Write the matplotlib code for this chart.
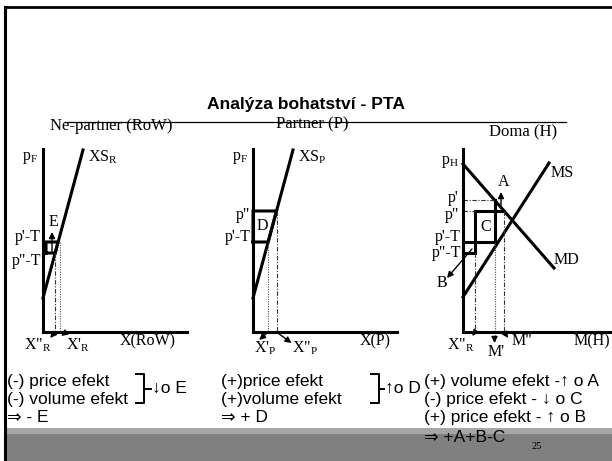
import numpy as np
import matplotlib.pyplot as plt

plt.rcParams['mathtext.fontset'] = 'custom'
plt.rcParams['mathtext.rm'] = 'Liberation Serif'
plt.rcParams['mathtext.it'] = 'Liberation Serif:italic'

W, H = 612, 461
SERIF = 'Liberation Serif'
SANS = ['Liberation Sans', 'DejaVu Sans']

# price levels, same scale in all three panels
price_names = ["p'", 'p"', "p'-T", 'p"-T']
prices = [132, 121, 90, 79]

# export supply of RoW / partner
xs_q = [0, 40]
xs_p = [34, 182]
# home import demand and import supply
md_q = [0, 91]
md_p = [168, 64]
ms_q = [0, 86]
ms_p = [35, 169]

panel_titles = ['Ne-partner (RoW)', 'Partner (P)', 'Doma (H)']
left_notes = ['(-) price efekt', '(-) volume efekt', '\u21d2 - E']
mid_notes = ['(+)price efekt', '(+)volume efekt', '\u21d2 + D']
right_notes = ['(+) volume efekt -\u2191 o A', '(-) price efekt - \u2193 o C',
               '(+) price efekt - \u2191 o B', '\u21d2 +A+B-C']

p1, p2, p1t, p2t = prices


def q_at(qs, ps, p):
    if ps[0] > ps[-1]:
        return float(np.interp(p, ps[::-1], qs[::-1]))
    return float(np.interp(p, ps, qs))


fig = plt.figure(figsize=(W / 100, H / 100), dpi=100)

# slide background
bg = fig.add_axes([0, 0, 1, 1])
bg.set_xlim(0, W)
bg.set_ylim(H, 0)
bg.axis('off')
bg.add_patch(plt.Rectangle((5, 428), W, 7, color='#a6a6a6', lw=0))
bg.add_patch(plt.Rectangle((5, 434), W, 30, color='#808080', lw=0))
bg.plot([5, 5], [7, H], color='k', lw=2.2)
bg.plot([5, W], [7.5, 7.5], color='k', lw=2)
bg.plot([65, 566], [122, 122], color='k', lw=0.9)
bg.text(306, 104, 'Analýza bohatství - PTA', family=SANS, fontsize=12.6,
        fontweight='bold', ha='center', va='center')
for t, (x, y) in zip(panel_titles, [(111, 126), (312, 124), (523, 132)]):
    bg.text(x, y, t, family=SERIF, fontsize=12, ha='center', va='center')

NOTE = 12.5
for notes, x in [(left_notes, 7), (mid_notes, 221), (right_notes, 424)]:
    for i, t in enumerate(notes):
        y = 381 + 18 * i + (2 if i == 3 else 0)
        bg.text(x, y, t, family=SANS, fontsize=NOTE, ha='left', va='center')


def brace(x, top, bot, tip):
    mid = (top + bot) / 2
    bg.plot([x, x + 8, x + 8], [top, top, mid - 1], color='k', lw=1.4)
    bg.plot([x + 8, x + 8, x], [mid + 1, bot, bot], color='k', lw=1.4)
    bg.plot([x + 8, tip], [mid, mid], color='k', lw=1.4)


brace(136, 374, 403, 151)
bg.text(152, 388, '\u2193o E', family=SANS, fontsize=NOTE, va='center')
brace(371, 374, 403, 384)
bg.text(385, 388, '\u2191o D', family=SANS, fontsize=NOTE, va='center')
bg.text(537, 446, '25', family=SERIF, fontsize=7.5, ha='center', va='center')


def panel(x0, x1):
    ax = fig.add_axes([x0 / W, 1 - 332 / H, (x1 - x0) / W, 183 / H])
    ax.set_xlim(0, x1 - x0)
    ax.set_ylim(0, 183)
    ax.patch.set_alpha(0)
    for s in ['top', 'right']:
        ax.spines[s].set_visible(False)
    for s in ['left', 'bottom']:
        ax.spines[s].set_linewidth(2.2)
    ax.set_xticks([])
    ax.set_yticks([])
    return ax


def lab(ax, x, y, s, **kw):
    kw.setdefault('ha', 'center')
    ax.text(x, y, s, family=SERIF, fontsize=11.5, va='center', clip_on=False, **kw)


def arrow(ax, tail, head):
    ax.annotate('', xy=head, xytext=tail, annotation_clip=False,
                arrowprops=dict(arrowstyle='-|>', color='k', lw=1, mutation_scale=9,
                                shrinkA=0, shrinkB=0))


thick = dict(color='k', lw=2.2, solid_joinstyle='miter', solid_capstyle='projecting',
             clip_on=False)
dashdot = dict(color='#333333', lw=0.8, ls=(0, (4, 1.5, 1, 1.5)), clip_on=False)
dotted = dict(color='#555555', lw=0.8, ls=(0, (1, 1.2)), clip_on=False)

# --- Ne-partner (RoW)
ax = panel(43, 187)
ax.plot(xs_q, xs_p, **thick)
qa, qb = q_at(xs_q, xs_p, p2t), q_at(xs_q, xs_p, p1t)
ax.plot([3, qa, qb, 3, 3], [p2t, p2t, p1t, p1t, p2t], **thick)
ax.plot([qa, qa], [p2t, 0], **dashdot)
ax.plot([qb + 2, qb + 2], [p1t, 0], **dotted)
arrow(ax, (9, p2t + 1), (9, p1t + 10))
lab(ax, 10, 110, 'E')
lab(ax, -13, 174, 'p$_\\mathrm{F}$')
lab(ax, 45, 175, 'XS$_\\mathrm{R}$', ha='left')
lab(ax, -2, p1t + 5, price_names[2], ha='right')
lab(ax, -2, p2t - 8, price_names[3], ha='right')
arrow(ax, (qa, 0), (qa - 5, -6))
arrow(ax, (qb + 7, -1), (qb + 3, -4))
lab(ax, -5, -13, 'X"$_\\mathrm{R}$')
lab(ax, 35, -13, "X'$_\\mathrm{R}$")
lab(ax, 105, -9, 'X(RoW)')

# --- Partner (P)
ax = panel(253, 397)
ax.plot(xs_q, xs_p, **thick)
qa, qb = q_at(xs_q, xs_p, p1t), q_at(xs_q, xs_p, p2)
ax.plot([0, qa, qb, 0, 0], [p1t, p1t, p2, p2, p1t], **thick)
ax.plot([qa, qa], [p1t, 0], **dotted)
ax.plot([qb, qb], [p2, 0], **dashdot)
lab(ax, 9, 106, 'D')
lab(ax, -13, 174, 'p$_\\mathrm{F}$')
lab(ax, 45, 175, 'XS$_\\mathrm{P}$', ha='left')
lab(ax, -3, p2 - 4, price_names[1], ha='right')
lab(ax, -2, p1t + 5, price_names[2], ha='right')
arrow(ax, (qa, 0), (qa - 9, -8))
arrow(ax, (qb, 0), (qb + 15, -11))
lab(ax, 12, -16, "X'$_\\mathrm{P}$")
lab(ax, 52, -16, 'X"$_\\mathrm{P}$')
lab(ax, 122, -9, 'X(P)')

# --- Doma (H)
ax = panel(463, 612)
ax.plot(md_q, md_p, **thick)
ax.plot(ms_q, ms_p, **thick)
xr = q_at(xs_q, xs_p, p2t)
m1 = q_at(md_q, md_p, p1)
m2 = q_at(md_q, md_p, p2)
ax.plot([0, xr, xr, 0, 0], [p2t, p2t, p1t, p1t, p2t], **thick)
ax.plot([m2, xr, xr, m1, m1], [p2, p2, p1t, p1t, p1], **thick)
ax.plot([0, m1], [p1, p1], **dashdot)
ax.plot([0, xr], [p2, p2], **dashdot)
ax.plot([xr, xr], [p2t, 0], **dashdot)
ax.plot([m1, m1], [p1t, -10], **dotted)
ax.plot([m2, m2], [p2, 0], **dashdot)
arrow(ax, (38, 127), (38, 140))
arrow(ax, (9, 83), (-16, 54))
arrow(ax, (m1, -6), (m1, -11))
arrow(ax, (xr, 0), (xr - 3, -4))
arrow(ax, (m2, 0), (m2 + 4, -6))
lab(ax, -13, 170, 'p$_\\mathrm{H}$')
lab(ax, 99, 159, 'MS')
lab(ax, 103, 72, 'MD')
lab(ax, 41, 150, 'A')
lab(ax, 23, 105, 'C')
lab(ax, -21, 49, 'B')
lab(ax, -4, 134, price_names[0], ha='right')
lab(ax, -4, 117, price_names[1], ha='right')
lab(ax, -2, 95, price_names[2], ha='right')
lab(ax, -2, 79, price_names[3], ha='right')
lab(ax, -2, -13, 'X"$_\\mathrm{R}$')
lab(ax, 33, -20, "M'")
lab(ax, 59, -9, 'M"')
lab(ax, 129, -9, 'M(H)')

fig.savefig('out.png', dpi=100)
